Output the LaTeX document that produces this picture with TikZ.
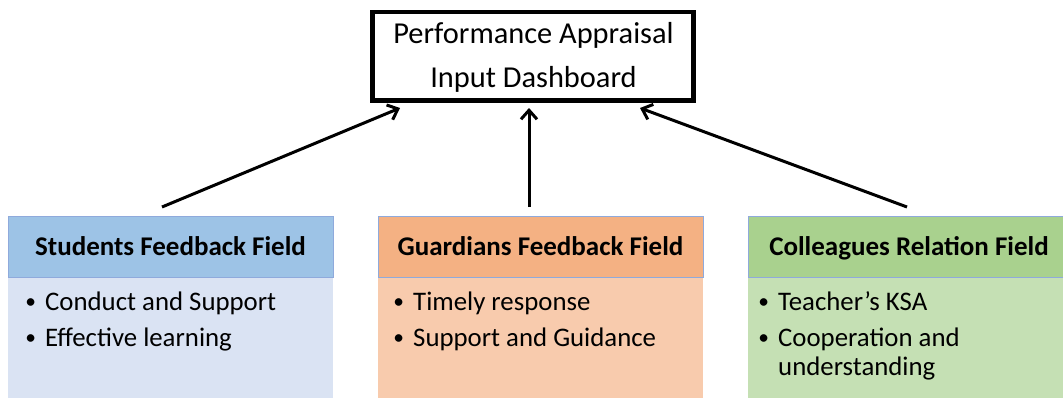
\documentclass[tikz,border=0pt]{standalone}
\usepackage{fontspec}
\setmainfont{Carlito}
\usetikzlibrary{arrows.meta}
\definecolor{hblue}{HTML}{9DC3E6}
\definecolor{bblue}{HTML}{DAE3F3}
\definecolor{horange}{HTML}{F4B183}
\definecolor{borange}{HTML}{F8CBAD}
\definecolor{hgreen}{HTML}{A9D18E}
\definecolor{bgreen}{HTML}{C5E0B4}
\definecolor{edgeblue}{HTML}{8FAADC}
\newcommand\itm[1]{\llap{\makebox[29pt]{\raisebox{1.8pt}{\scalebox{0.8}{•}}}}#1}
\begin{document}
\begin{tikzpicture}[x=1pt,y=-1pt,
  titlebox/.style={draw=black,line width=4.5pt,minimum width=321pt,minimum height=88.5pt,inner sep=0pt},
  titletext/.style={anchor=base,font=\fontsize{30.4}{36}\selectfont,inner sep=0pt},
  header/.style={draw=edgeblue,line width=1.2pt,minimum width=325pt,minimum height=61pt,inner sep=0pt,anchor=north west},
  bodybox/.style={minimum width=325pt,minimum height=125pt,inner sep=0pt,anchor=north west},
  headtext/.style={anchor=base,font=\bfseries\fontsize{27}{32}\selectfont,inner sep=0pt},
  itemtext/.style={anchor=base west,font=\fontsize{26.8}{30}\selectfont,inner sep=0pt},
  conn/.style={line width=3pt,-{Straight Barb[length=9pt,width=16pt]}}
]
\clip (0,0) rectangle (1063,397);
\fill[white] (0,0) rectangle (1063,397);

% title
\node[titlebox] (title) at (533,56.25) {};
\node[titletext] (t1) at (533.5,43) {Performance Appraisal};
\node[titletext] (t2) at (533.5,87) {Input Dashboard};

% bodies
\node[bodybox,fill=bblue] (sbody) at (8,277) {};
\node[bodybox,fill=borange] (gbody) at (378,277) {};
\node[bodybox,fill=bgreen] (cbody) at (748,277) {};

% headers
\node[header,fill=hblue] (shead) at (8,216) {};
\node[header,fill=horange] (ghead) at (378,216) {};
\node[header,fill=hgreen] (chead) at (748,216) {};

\node[headtext] (sht) at (170.5,255) {Students Feedback Field};
\node[headtext] (ght) at (540.5,255) {Guardians Feedback Field};
\node[headtext] (cht) at (909,255) {Colleagues Relation Field};

% items
\node[itemtext] (s1) at (45,310.5) {\itm{Conduct and Support}};
\node[itemtext] (s2) at (45,346.5) {\itm{Effective learning}};
\node[itemtext] (g1) at (413,310.5) {\itm{Timely response}};
\node[itemtext] (g2) at (413,346) {\itm{Support and Guidance}};
\node[itemtext] (c1) at (778,310) {\itm{Teacher’s KSA}};
\node[itemtext] (c2) at (778,346) {\itm{Cooperation and}};
\node[itemtext] (c3) at (778,375.5) {understanding};

% connectors
\coordinate (as) at (162,207);
\coordinate (ae) at (400,108);
\coordinate (bs) at (529,207);
\coordinate (be) at (529,108);
\coordinate (cs) at (907,207);
\coordinate (ce) at (640,108);
\draw[conn] (as) -- (ae);
\draw[conn] (bs) -- (be);
\draw[conn] (cs) -- (ce);
\end{tikzpicture}
\end{document}
